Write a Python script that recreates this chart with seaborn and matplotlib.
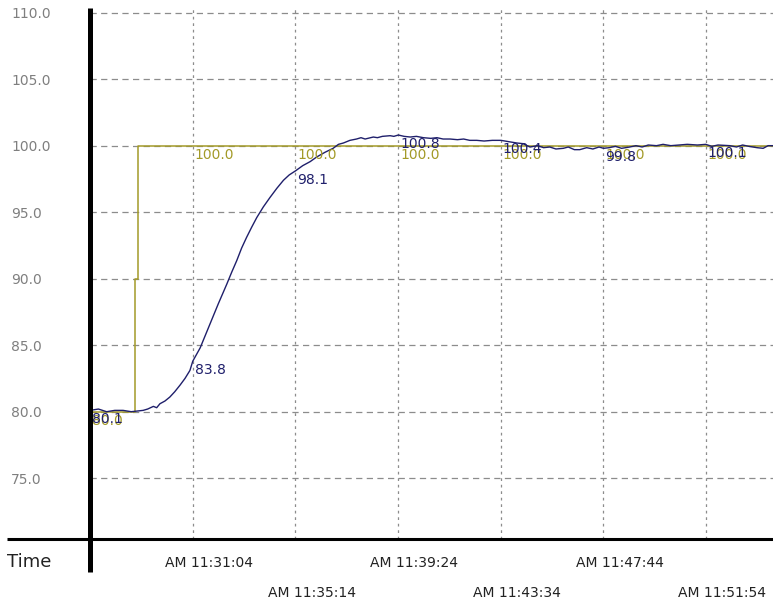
import matplotlib
matplotlib.use("Agg")
import matplotlib.pyplot as plt
from matplotlib.lines import Line2D
import seaborn as sns
import pandas as pd

# ---- data (elapsed seconds from the left edge of the chart) ----
pv_t = [0, 20, 40, 60, 80, 100, 129, 140, 154, 162, 170, 182, 194, 206, 219, 231, 243, 250,
        268, 288, 300, 312, 333, 345, 357, 369, 381, 394, 406, 422, 438, 455, 471, 485, 500,
        518, 536, 552, 572, 592, 605, 617, 633, 649, 660, 670, 690, 700, 712, 731, 740, 751,
        765, 780, 795, 812, 830, 845, 860, 877, 895, 910, 925, 942, 960, 980, 1001, 1020,
        1040, 1055, 1065, 1072, 1090, 1105, 1120, 1135, 1153, 1165, 1180, 1193, 1210, 1225,
        1240, 1251, 1265, 1280, 1295, 1315, 1330, 1345, 1360, 1380, 1396, 1415, 1435, 1455,
        1480, 1500, 1515, 1530, 1559, 1575, 1590, 1605, 1625, 1640, 1652, 1664]
pv_v = [80.1, 80.2, 80.0, 80.1, 80.1, 80.0, 80.1, 80.2, 80.4, 80.3, 80.6, 80.8, 81.1, 81.5,
        82.0, 82.5, 83.1, 83.8, 84.8, 86.3, 87.2, 88.1, 89.6, 90.5, 91.35, 92.3, 93.1, 93.9,
        94.6, 95.4, 96.1, 96.8, 97.4, 97.8, 98.1, 98.5, 98.8, 99.15, 99.5, 99.8, 100.1, 100.2,
        100.4, 100.5, 100.6, 100.5, 100.65, 100.6, 100.7, 100.75, 100.7, 100.8, 100.7, 100.65,
        100.7, 100.6, 100.55, 100.6, 100.5, 100.5, 100.45, 100.5, 100.4, 100.4, 100.35, 100.4,
        100.4, 100.3, 100.2, 100.15, 100.0, 99.9, 100.0, 99.85, 99.9, 99.75, 99.8, 99.9, 99.7,
        99.7, 99.85, 99.75, 99.9, 99.8, 99.85, 99.95, 99.8, 99.9, 100.0, 99.9, 100.05, 100.0,
        100.1, 100.0, 100.05, 100.1, 100.05, 100.1, 99.95, 100.05, 100.0, 99.9, 100.05, 99.95,
        99.85, 99.8, 100.0, 100.0]

sp_t = [0, 110, 110, 116, 116, 1664]
sp_v = [80.0, 80.0, 90.0, 90.0, 100.0, 100.0]

# value labels shown at the grid columns
pv_lab_t = [0, 250, 500, 750, 1000, 1250, 1500]
pv_lab_v = [80.1, 83.8, 98.1, 100.8, 100.4, 99.8, 100.1]
pv_lab_s = ["80.1", "83.8", "98.1", "100.8", "100.4", "99.8", "100.1"]

sp_lab_t = [0, 250, 500, 750, 1000, 1250, 1500]
sp_lab_v = [80.0, 100.0, 100.0, 100.0, 100.0, 100.0, 100.0]
sp_lab_s = ["80.0", "100.0", "100.0", "100.0", "100.0", "100.0", "100.0"]

grid_t = [250, 500, 750, 1000, 1250, 1500]
y_ticks = [75, 80, 85, 90, 95, 100, 105, 110]

top_t = [290, 790, 1290]
top_labels = ["AM 11:31:04", "AM 11:39:24", "AM 11:47:44"]
bot_t = [540, 1040, 1540]
bot_labels = ["AM 11:35:14", "AM 11:43:34", "AM 11:51:54"]

PV_COLOR = "#1f1f6b"
SP_COLOR = "#a39a28"

sns.set_theme(style="white")
plt.rcParams["font.family"] = ["DejaVu Sans"]

W, H = 773, 606
fig = plt.figure(figsize=(W / 100, H / 100), dpi=100)
fig.patch.set_facecolor("white")
ax = fig.add_axes([90.2 / W, (H - 539) / H, (W - 90.2) / W, 531 / H])
ax.set_facecolor("white")

pv_df = pd.DataFrame({"t": pv_t, "v": pv_v})
sp_df = pd.DataFrame({"t": sp_t, "v": sp_v})

# grid
for g in grid_t:
    ax.axvline(g, color="#8c8c8c", lw=0.9, ls=(0, (2.2, 3.0)), zorder=0)
ax.set_yticks(y_ticks)
ax.set_yticklabels([f"{v:.1f}" for v in y_ticks])
ax.yaxis.grid(True, color="#8c8c8c", lw=0.9, ls=(0, (5, 3.5)), zorder=0)
ax.xaxis.grid(False)

sns.lineplot(data=sp_df, x="t", y="v", ax=ax, color=SP_COLOR, lw=1.1, sort=False,
             estimator=None, zorder=2)
sns.lineplot(data=pv_df, x="t", y="v", ax=ax, color=PV_COLOR, lw=1.0, sort=False,
             estimator=None, zorder=3)

for t, v, s in zip(sp_lab_t, sp_lab_v, sp_lab_s):
    ax.annotate(s, (t, v), xytext=(1.5, -1.5), textcoords="offset points",
                ha="left", va="top", fontsize=10, color=SP_COLOR, zorder=4)
for t, v, s in zip(pv_lab_t, pv_lab_v, pv_lab_s):
    ax.annotate(s, (t, v), xytext=(1.5, -1.5), textcoords="offset points",
                ha="left", va="top", fontsize=10, color=PV_COLOR, zorder=5)

ax.set_xlim(0, 1664)
ax.set_ylim(70.43, 110.35)
ax.set_xlabel("")
ax.set_ylabel("")
for sp in ax.spines.values():
    sp.set_visible(False)

ax.set_xticks(top_t)
ax.set_xticklabels(top_labels)
ax.set_xticks(bot_t, minor=True)
ax.set_xticklabels(bot_labels, minor=True)
ax.tick_params(axis="x", which="major", length=0, pad=12, labelsize=10, labelcolor="#222222")
ax.tick_params(axis="x", which="minor", length=0, pad=33.6, labelsize=10, labelcolor="#222222")
ax.tick_params(axis="y", length=0, pad=57, labelsize=10, labelcolor="#7f7f7f")
for lab in ax.get_yticklabels():
    lab.set_horizontalalignment("left")

# heavy black axis lines of the original chart
fig.add_artist(Line2D([90.2 / W, 90.2 / W], [1 - 8 / H, 1 - 572 / H], color="black",
                      lw=3.6, transform=fig.transFigure, solid_capstyle="butt"))
fig.add_artist(Line2D([7 / W, 1.0], [1 - 539 / H, 1 - 539 / H], color="black",
                      lw=2.2, transform=fig.transFigure, solid_capstyle="butt"))
fig.text(7 / W, 1 - 562 / H, "Time", ha="left", va="center", fontsize=13, color="#222222")

fig.savefig("out.png", dpi=100)
